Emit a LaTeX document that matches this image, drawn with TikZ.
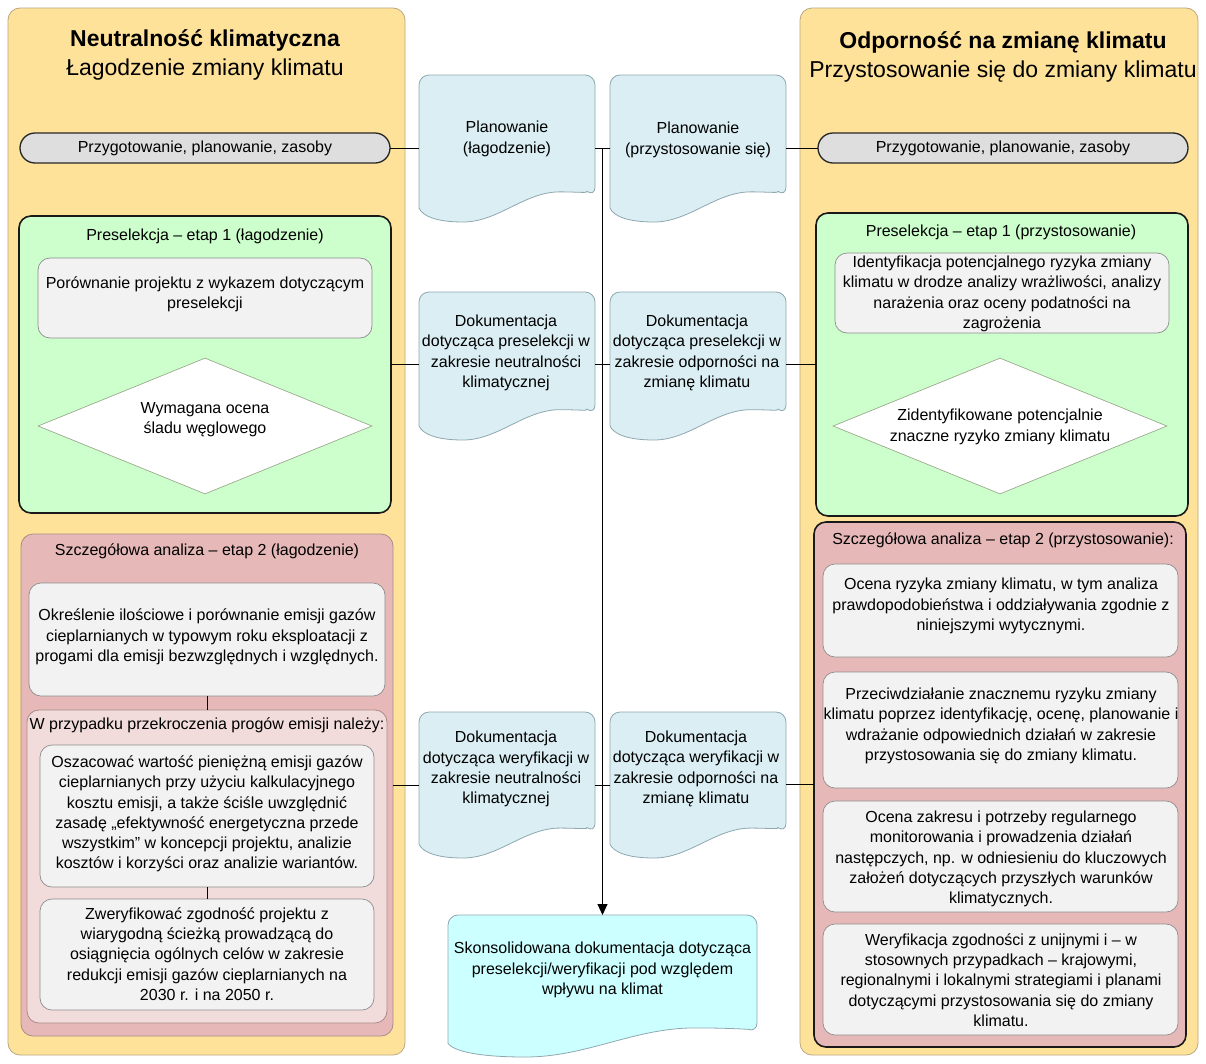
\documentclass[tikz,border=0pt]{standalone}
\usepackage{fontspec}
\setmainfont{Liberation Sans}
\usetikzlibrary{arrows.meta,shapes.geometric}
\definecolor{panelY}{HTML}{FFE29A}
\definecolor{panelB}{HTML}{B9A77E}
\definecolor{pillF}{HTML}{DEDEDE}
\definecolor{docF}{HTML}{DAEEF3}
\definecolor{docB}{HTML}{8FA8B0}
\definecolor{greenF}{HTML}{CCFFCC}
\definecolor{greyF}{HTML}{F2F2F2}
\definecolor{greyB}{HTML}{8C8C8C}
\definecolor{diamB}{HTML}{9AAA8C}
\definecolor{redF}{HTML}{E6B9B8}
\definecolor{redB}{HTML}{A88A88}
\definecolor{pinkF}{HTML}{F2DCDB}
\definecolor{finalF}{HTML}{CCFFFF}
\newcommand\bx[6][]{%
  \pgfmathsetmacro\bxcx{(#3+#5)/2}\pgfmathsetmacro\bxcy{(#4+#6)/2}%
  \pgfmathsetmacro\bxw{#5-#3}\pgfmathsetmacro\bxh{#6-#4}%
  \node[#1,minimum width=\bxw pt,minimum height=\bxh pt,inner sep=0pt,outer sep=0pt] (#2) at (\bxcx,\bxcy) {};}
% document shape: fill, name, x1, y1, x2, y2
\newcommand\docshape[6]{%
  \draw[docline,fill=#1,rounded corners=10pt]
    (#3,{#4+0.905*(#6-#4)}) -- (#3,#4) -- (#5,#4) -- (#5,{#4+0.83*(#6-#4)}) [sharp corners]
    .. controls ({#5-0.03*(#5-#3)},{#4+0.805*(#6-#4)}) and ({#3+0.9*(#5-#3)},{#4+0.795*(#6-#4)}) .. ({#3+0.8*(#5-#3)},{#4+0.795*(#6-#4)})
    .. controls ({#3+0.6*(#5-#3)},{#4+0.795*(#6-#4)}) and ({#3+0.45*(#5-#3)},#6) .. ({#3+0.25*(#5-#3)},#6)
    .. controls ({#3+0.1*(#5-#3)},#6) and ({#3+0.02*(#5-#3)},{#4+0.96*(#6-#4)}) .. (#3,{#4+0.905*(#6-#4)}) -- cycle;
  \bx{#2}{#3}{#4}{#5}{#6}}
\tikzset{
  panel/.style={draw=panelB,fill=panelY,line width=0.8pt,rounded corners=12pt},
  pill/.style={draw=black!85,fill=pillF,line width=1.3pt,rounded corners=15pt},
  greenbox/.style={draw=black!90,fill=greenF,line width=1.6pt,rounded corners=12pt},
  redboxL/.style={draw=redB,fill=redF,line width=0.8pt,rounded corners=12pt},
  redboxR/.style={draw=black!90,fill=redF,line width=1.6pt,rounded corners=12pt},
  pinkbox/.style={draw=redB,fill=pinkF,line width=0.8pt,rounded corners=12pt},
  greybox/.style={draw=greyB,fill=greyF,line width=0.7pt,rounded corners=12pt},
  docline/.style={draw=docB,line width=0.8pt},
  diam/.style={diamond,draw=diamB,fill=white,line width=0.7pt},
  conn/.style={draw=black,line width=1pt},
  txt/.style={align=center,font=\fontsize{16}{20.3}\selectfont,inner sep=0pt},
  ttl/.style={align=center,font=\fontsize{23}{29}\selectfont,inner sep=0pt},
}
\begin{document}
\begin{tikzpicture}[x=1pt,y=-1pt]
\useasboundingbox[fill=white] (0,0) rectangle (1206,1063);
% panels
\bx[panel]{panelL}{8}{8}{405}{1055}
\bx[panel]{panelR}{800}{8}{1198}{1055}
\node[ttl] (titleL) at (205,54.5) {{\bfseries Neutralność klimatyczna}\\Łagodzenie zmiany klimatu};
\node[ttl] (titleR) at (1003,56.5) {{\bfseries Odporność na zmianę klimatu}\\Przystosowanie się do zmiany klimatu};
% pills
\bx[pill]{pillL}{20}{133}{390}{163}
\node[txt] (pillLt) at (205,148) {Przygotowanie, planowanie, zasoby};
\bx[pill]{pillR}{818}{133}{1188}{163}
\node[txt] (pillRt) at (1003,148) {Przygotowanie, planowanie, zasoby};
% stage 1 left
\bx[greenbox]{greenL}{19}{216}{391}{513}
\node[txt] (greenLt) at (205,236) {Preselekcja – etap 1 (łagodzenie)};
\bx[greybox]{cmpL}{38}{258}{372}{338}
\node[txt] (cmpLt) at (205,294) {Porównanie projektu z wykazem dotyczącym\\preselekcji};
\node[diam,minimum width=334pt,minimum height=136pt,inner sep=0pt] (diaL) at (205,426) {};
\node[txt] (diaLt) at (205,420) {Wymagana ocena\\śladu węglowego};
% stage 1 right
\bx[greenbox]{greenR}{816}{213}{1188}{516}
\node[txt] (greenRt) at (1001,232) {Preselekcja – etap 1 (przystosowanie)};
\bx[greybox]{idR}{835}{253}{1169}{333}
\node[txt] (idRt) at (1002,294) {Identyfikacja potencjalnego ryzyka zmiany\\klimatu w drodze analizy wrażliwości, analizy\\narażenia oraz oceny podatności na\\zagrożenia};
\node[diam,minimum width=334pt,minimum height=136pt,inner sep=0pt] (diaR) at (1000,426) {};
\node[txt] (diaRt) at (1000,427) {Zidentyfikowane potencjalnie\\znaczne ryzyko zmiany klimatu};
% stage 2 left
\bx[redboxL]{redL}{21}{534}{393}{1036}
\node[txt] (redLt) at (207,551) {Szczegółowa analiza – etap 2 (łagodzenie)};
\bx[greybox]{qL}{29}{583}{385}{696}
\node[txt] (qLt) at (207,637) {Określenie ilościowe i porównanie emisji gazów\\cieplarnianych w typowym roku eksploatacji z\\progami dla emisji bezwzględnych i względnych.};
\bx[pinkbox]{pinkL}{27}{710}{387}{1023}
\node[txt] (pinkLt) at (207,725) {W przypadku przekroczenia progów emisji należy:};
\bx[greybox]{subA}{40}{745}{374}{887}
\node[txt] (subAt) at (207,814) {Oszacować wartość pieniężną emisji gazów\\cieplarnianych przy użyciu kalkulacyjnego\\kosztu emisji, a także ściśle uwzględnić\\zasadę „efektywność energetyczna przede\\wszystkim” w koncepcji projektu, analizie\\kosztów i korzyści oraz analizie wariantów.};
\bx[greybox]{subB}{40}{899}{374}{1010}
\node[txt] (subBt) at (207,954) {Zweryfikować zgodność projektu z\\wiarygodną ścieżką prowadzącą do\\osiągnięcia ogólnych celów w zakresie\\redukcji emisji gazów cieplarnianych na\\2030 r. i na 2050 r.};
\draw[conn] (qL.south) -- (pinkL.north);
\draw[conn] (subA.south) -- (subB.north);
% stage 2 right
\bx[redboxR]{redR}{814}{522}{1186}{1047}
\node[txt] (redRt) at (1003,540) {Szczegółowa analiza – etap 2 (przystosowanie):};
\bx[greybox]{r1}{823}{564}{1178}{657}
\node[txt] (r1t) at (1001,606) {Ocena ryzyka zmiany klimatu, w tym analiza\\prawdopodobieństwa i oddziaływania zgodnie z\\niniejszymi wytycznymi.};
\bx[greybox]{r2}{823}{672}{1178}{788}
\node[txt] (r2t) at (1001,726) {Przeciwdziałanie znacznemu ryzyku zmiany\\klimatu poprzez identyfikację, ocenę, planowanie i\\wdrażanie odpowiednich działań w zakresie\\przystosowania się do zmiany klimatu.};
\bx[greybox]{r3}{823}{801}{1178}{912}
\node[txt] (r3t) at (1001,859) {Ocena zakresu i potrzeby regularnego\\monitorowania i prowadzenia działań\\następczych, np. w odniesieniu do kluczowych\\założeń dotyczących przyszłych warunków\\klimatycznych.};
\bx[greybox]{r4}{823}{924}{1178}{1035}
\node[txt] (r4t) at (1001,980) {Weryfikacja zgodności z unijnymi i – w\\stosownych przypadkach – krajowymi,\\regionalnymi i lokalnymi strategiami i planami\\dotyczącymi przystosowania się do zmiany\\klimatu.};
% documents
\docshape{docF}{docPL}{419}{75}{595}{222}
\node[txt] (docPLt) at (507,139) {Planowanie\\(łagodzenie)};
\docshape{docF}{docPR}{610}{75}{786}{222}
\node[txt] (docPRt) at (698,140) {Planowanie\\(przystosowanie się)};
\docshape{docF}{docSL}{419}{292}{595}{440}
\node[txt] (docSLt) at (506,353) {Dokumentacja\\dotycząca preselekcji w\\zakresie neutralności\\klimatycznej};
\docshape{docF}{docSR}{610}{292}{786}{440}
\node[txt] (docSRt) at (697,353) {Dokumentacja\\dotycząca preselekcji w\\zakresie odporności na\\zmianę klimatu};
\docshape{docF}{docVL}{419}{712}{595}{858}
\node[txt] (docVLt) at (506,769) {Dokumentacja\\dotycząca weryfikacji w\\zakresie neutralności\\klimatycznej};
\docshape{docF}{docVR}{610}{712}{786}{858}
\node[txt] (docVRt) at (696,769) {Dokumentacja\\dotycząca weryfikacji w\\zakresie odporności na\\zmianę klimatu};
\docshape{finalF}{final}{448}{915}{757}{1057}
\node[txt] (finalt) at (602.5,970) {Skonsolidowana dokumentacja dotycząca\\preselekcji/weryfikacji pod względem\\wpływu na klimat};
% connectors
\draw[conn] (pillL.east) -- (pillL.east -| docPL.west);
\draw[conn] (pillL.east -| docPL.east) -- (pillL.east -| docPR.west);
\draw[conn] (pillR.west -| docPR.east) -- (pillR.west);
\draw[conn] (greenL.east) -- (greenL.east -| docSL.west);
\draw[conn] (greenL.east -| docSL.east) -- (greenL.east -| docSR.west);
\draw[conn] (greenR.west -| docSR.east) -- (greenR.west);
\draw[conn] (redL.east) -- (redL.east -| docVL.west);
\draw[conn] (redL.east -| docVL.east) -- (redL.east -| docVR.west);
\draw[conn] (redR.west -| docVR.east) -- (redR.west);
\coordinate (trunk) at (pillL.east -| final.north);
\draw[conn,-{Triangle[length=11pt,width=10pt]}] (trunk) -- (final.north);
\end{tikzpicture}
\end{document}
